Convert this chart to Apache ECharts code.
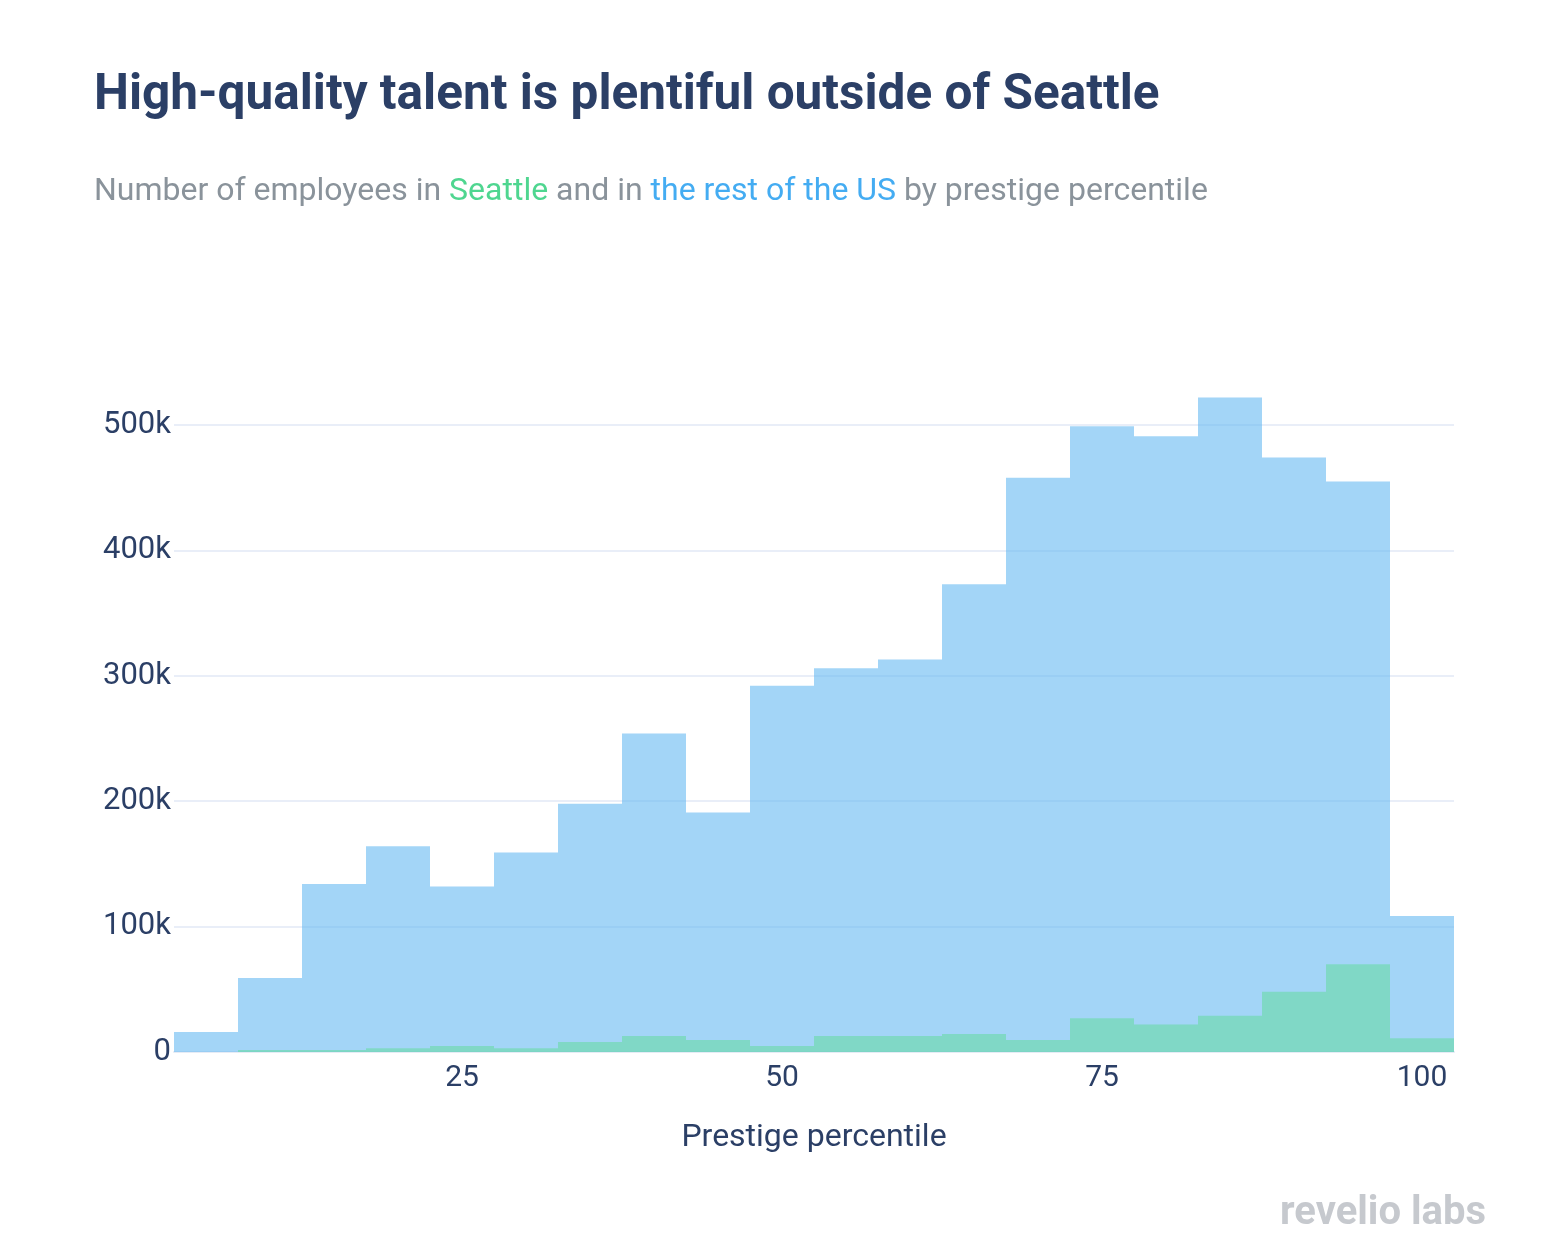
<!DOCTYPE html>
<html>
<head>
<meta charset="utf-8">
<script src="https://cdn.jsdelivr.net/npm/echarts@6/dist/echarts.min.js"></script>
<style>html,body{margin:0;padding:0;background:#fff}#c{width:1560px;height:1258px}</style>
</head>
<body>
<div id="c"></div>
<script>
const categories = ['5','10','15','20','25','30','35','40','45','50','55','60','65','70','75','80','85','90','95','100'];
const restOfUS = [16000, 59000, 134000, 164000, 132000, 159000, 198000, 254000, 191000, 292000, 306000, 313000, 373000, 458000, 499000, 491000, 522000, 474000, 455000, 108500];
const seattle = [0, 1500, 1500, 3000, 4800, 3000, 8000, 12800, 9600, 4800, 12800, 12800, 14400, 9600, 27000, 22000, 29000, 48000, 70000, 11000];
const xTickLabels = ['25','50','75','100'];

const navy = '#2b3f66';
const chart = echarts.init(document.getElementById('c'));
chart.setOption({
  backgroundColor: '#fff',
  animation: false,
  title: [
    { text: 'High-quality talent is plentiful outside of Seattle', left: 89, top: 67,
      textStyle: { fontFamily: 'Roboto', fontWeight: 'bold', fontSize: 49.5, color: navy } },
    { text: '{g|Number of employees in }{s|Seattle}{g| and in }{b|the rest of the US}{g| by prestige percentile}',
      left: 89, top: 171,
      textStyle: { fontFamily: 'Roboto', fontWeight: 'normal', fontSize: 32, rich: {
        g: { color: '#8a939b', fontFamily: 'Roboto', fontWeight: 'normal', fontSize: 32 },
        s: { color: '#4fd690', fontFamily: 'Roboto', fontWeight: 'normal', fontSize: 32 },
        b: { color: '#44acf2', fontFamily: 'Roboto', fontWeight: 'normal', fontSize: 32 }
      } } }
  ],
  grid: { left: 174, right: 106, top: 362.3, bottom: 206, containLabel: false },
  xAxis: {
    type: 'category', data: categories,
    name: 'Prestige percentile', nameLocation: 'middle', nameGap: 70,
    nameTextStyle: { fontFamily: 'Roboto', fontSize: 32, color: navy },
    axisLine: { show: true, lineStyle: { color: '#e6ebf5', width: 2 } },
    axisTick: { show: false },
    axisLabel: { interval: (i, v) => xTickLabels.indexOf(v) >= 0, margin: 11,
      fontFamily: 'Roboto', fontSize: 30, color: navy },
    splitLine: { show: false }
  },
  yAxis: {
    type: 'value', min: 0, max: 550000, interval: 100000,
    axisLine: { show: false }, axisTick: { show: false },
    axisLabel: { margin: 3, showMaxLabel: false, fontFamily: 'Roboto', fontSize: 31, color: navy,
      formatter: v => v === 0 ? '0' : (v / 1000) + 'k' },
    splitLine: { show: true, showMaxLine: false, lineStyle: { color: '#e9eef8', width: 2 } }
  },
  series: [
    { name: 'the rest of the US', type: 'bar', data: restOfUS, barCategoryGap: '0%', barGap: '-100%',
      itemStyle: { color: '#66b9f2', opacity: 0.6 } },
    { name: 'Seattle', type: 'bar', data: seattle, barCategoryGap: '0%', barGap: '-100%',
      itemStyle: { color: '#69daa5', opacity: 0.6 } }
  ],
  graphic: [
    { type: 'text', right: 74, top: 1194,
      style: { text: 'revelio labs', fontFamily: 'Roboto', fontWeight: 'bold', fontSize: 40, fill: '#c6c9ce' } }
  ]
});
</script>
</body>
</html>
